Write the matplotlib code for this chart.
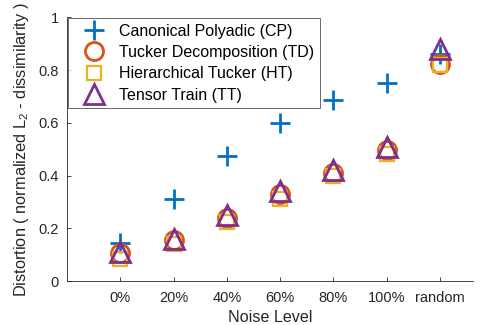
import numpy as np
import matplotlib
matplotlib.use('Agg')
import matplotlib.pyplot as plt

plt.rcParams['font.family'] = ['Liberation Sans', 'DejaVu Sans']
plt.rcParams['mathtext.fontset'] = 'custom'
plt.rcParams['mathtext.rm'] = 'Liberation Sans'
plt.rcParams['mathtext.it'] = 'Liberation Sans'

# data
levels = ['0%', '20%', '40%', '60%', '80%', '100%', 'random']
cp = [0.145, 0.31, 0.475, 0.598, 0.685, 0.75, 0.86]
td = [0.105, 0.155, 0.24, 0.33, 0.41, 0.496, 0.824]
ht = [0.085, 0.14, 0.225, 0.31, 0.40, 0.48, 0.82]
tt = [0.11, 0.16, 0.25, 0.34, 0.42, 0.51, 0.88]

x = np.arange(1, len(levels) + 1)
grey = '#262626'

fig = plt.figure(figsize=(4.82, 3.25), dpi=100)
ax = fig.add_axes([0.139, 0.135, 0.842, 0.812])

ax.plot(x, cp, '+', color='#0072BD', ms=14, mew=2, label='Canonical Polyadic (CP)')
ax.plot(x, td, 'o', color='#D95319', ms=13, mew=2, mfc='none', label='Tucker Decomposition (TD)')
ax.plot(x, ht, 's', color='#EDB120', ms=10, mew=1.6, mfc='none', label='Hierarchical Tucker (HT)')
ax.plot(x, tt, '^', color='#7E2F8E', ms=15, mew=2, mfc='none', label='Tensor Train (TT)')

ax.set_xlim(0, 7.62)
ax.set_ylim(0, 1)
ax.set_xticks(x)
ax.set_xticklabels(levels)
ax.set_yticks([0, 0.2, 0.4, 0.6, 0.8, 1])
ax.set_yticklabels(['0', '0.2', '0.4', '0.6', '0.8', '1'])
ax.tick_params(direction='in', length=3, colors=grey, labelsize=10.5, width=0.6)
ax.tick_params(axis='x', pad=7)
ax.tick_params(axis='y', pad=6)
for s in ['top', 'right']:
    ax.spines[s].set_visible(False)
for s in ['left', 'bottom']:
    ax.spines[s].set_color(grey)
    ax.spines[s].set_linewidth(0.6)

ax.set_xlabel('Noise Level', fontsize=11.6, color=grey, labelpad=4)
ax.set_ylabel(r'Distortion ( normalized L$_2$ - dissimilarity )', fontsize=11.8, color=grey, labelpad=5)

leg = ax.legend(loc='upper left', bbox_to_anchor=(0.0, 1.0), fontsize=11.5, frameon=True,
                fancybox=False, borderaxespad=0.05, handlelength=2.55, handletextpad=0.3,
                labelspacing=0.4, borderpad=0.35)
leg.get_frame().set_edgecolor(grey)
leg.get_frame().set_linewidth(0.6)
for t in leg.get_texts():
    t.set_color('black')

fig.savefig('out.png', dpi=100)
